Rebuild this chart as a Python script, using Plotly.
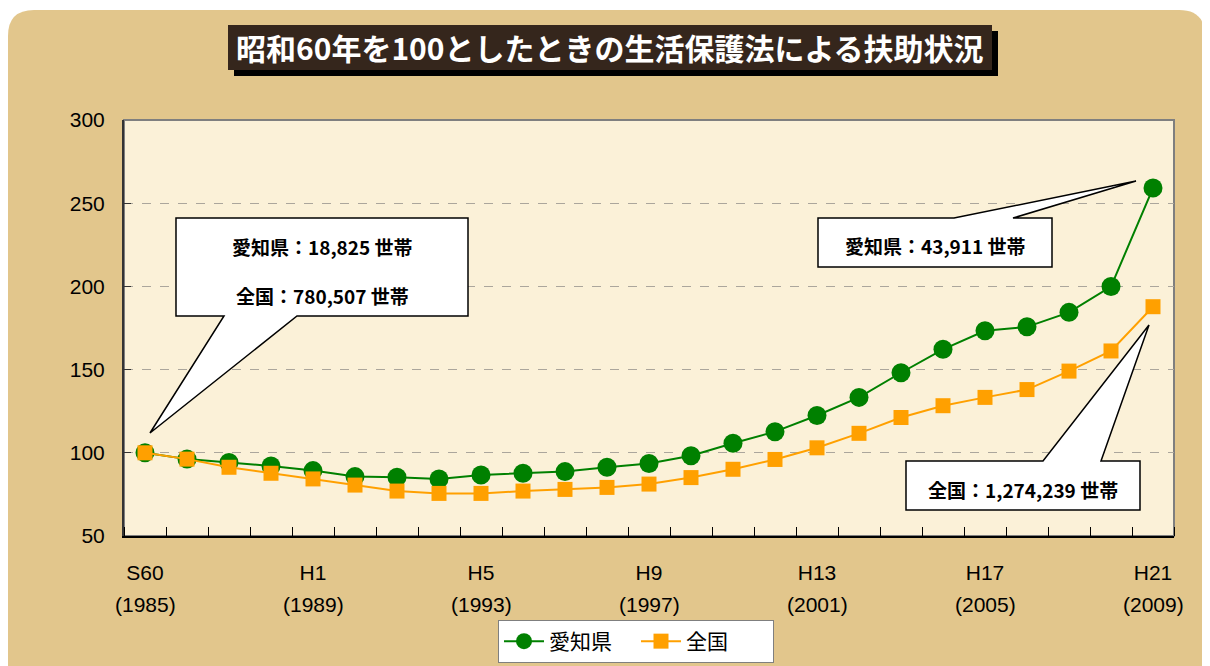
import plotly.graph_objects as go

# ---------------- data ----------------
years = list(range(1985, 2010))
aichi = [100, 96.2, 94.2, 92.1, 89.3, 85.7, 85.3, 84.3, 86.7, 87.7, 88.7, 91.3, 93.6,
         98.2, 105.7, 112.7, 122.4, 133.3, 148.1, 162.2, 173.3, 175.7, 184.4, 199.9, 259.1]
zenkoku = [100, 96.2, 91.3, 87.7, 84.3, 80.6, 77.0, 75.6, 75.6, 77.0, 78.0, 79.2, 81.2,
           85.1, 90.1, 96.0, 103.0, 111.7, 121.2, 128.3, 133.3, 138.0, 149.1, 161.2, 187.8]
series_names = ["愛知県", "全国"]
tick_years = [1985, 1989, 1993, 1997, 2001, 2005, 2009]
era_labels = ["S60", "H1", "H5", "H9", "H13", "H17", "H21"]
year_labels = ["(1985)", "(1989)", "(1993)", "(1997)", "(2001)", "(2005)", "(2009)"]
title_text = "昭和60年を100としたときの生活保護法による扶助状況"
callout_1985 = ["愛知県：18,825 世帯", "全国：780,507 世帯"]
callout_aichi_2009 = "愛知県：43,911 世帯"
callout_zenkoku_2009 = "全国：1,274,239 世帯"

# ---------------- layout helpers ----------------
OFF = 8                      # page body margin of the browser
W, H = 1210 - OFF, 666 - OFF  # figure size
L, R, T, B = 124, 1174, 120, 536   # plot area in screen pixels


def px(x):
    return (x - L) / (R - L)


def py(y):
    return (B - y) / (B - T)


def path(pts):
    s = "M " + " L ".join(f"{px(x):.5f},{py(y):.5f}" for x, y in pts)
    return s + " Z"


GREEN = "#008000"
ORANGE = "#FFA000"
JP = "Noto Sans CJK JP"
LAT = "Liberation Sans"

fig = go.Figure()
fig.add_trace(go.Scatter(x=years, y=aichi, name=series_names[0], mode="lines+markers",
                         line=dict(color=GREEN, width=2),
                         marker=dict(symbol="circle", size=19, color=GREEN)))
fig.add_trace(go.Scatter(x=years, y=zenkoku, name=series_names[1], mode="lines+markers",
                         line=dict(color=ORANGE, width=2),
                         marker=dict(symbol="square", size=15, color=ORANGE)))

shapes = []
# parchment background with rounded corners
r = 26
x0, y0, x1, y1 = 8, 10, 1205, 700
bg = (f"M {px(x0)},{py(y0 + r)} Q {px(x0)},{py(y0)} {px(x0 + r)},{py(y0)} "
      f"L {px(x1 - r)},{py(y0)} Q {px(x1)},{py(y0)} {px(x1)},{py(y0 + r)} "
      f"L {px(x1)},{py(y1)} L {px(x0)},{py(y1)} Z")
shapes.append(dict(type="path", path=bg, xref="paper", yref="paper", layer="below",
                   fillcolor="#E2C68C", line=dict(width=0)))
# plot area
shapes.append(dict(type="rect", xref="paper", yref="paper", x0=0, x1=1, y0=0, y1=1,
                   layer="below", fillcolor="#FBF1D8", line=dict(color="#7F7F7F", width=2)))
# title box with shadow
shapes.append(dict(type="rect", xref="paper", yref="paper", x0=px(234), x1=px(998),
                   y0=py(31), y1=py(76), fillcolor="#000000", line=dict(width=0)))
shapes.append(dict(type="rect", xref="paper", yref="paper", x0=px(228), x1=px(992),
                   y0=py(25), y1=py(70), fillcolor="#35261C", line=dict(width=0)))
# callouts
co = dict(type="path", xref="paper", yref="paper", fillcolor="#FFFFFF",
          line=dict(color="#000000", width=1.5))
shapes.append(dict(co, path=path([(176, 218), (468, 218), (468, 316), (297, 316),
                                  (150, 433), (224, 316), (176, 316)])))
shapes.append(dict(co, path=path([(818, 218), (954, 218), (1136, 181), (1013, 218),
                                  (1052, 218), (1052, 267), (818, 267)])))
shapes.append(dict(co, path=path([(906, 461), (1043, 461), (1149, 325), (1101, 461),
                                  (1140, 461), (1140, 510), (906, 510)])))

annotations = []


def label(text, x, y, font, xref="paper"):
    annotations.append(dict(text=text, xref=xref, yref="paper", x=x, y=y,
                            xanchor="center", yanchor="middle", showarrow=False,
                            font=font))


label(f"<b>{title_text}</b>", px(610), py(47), dict(family=JP, size=30, color="#FFFFFF"))
cfont = dict(family=JP, size=19, color="#000000")
label(f"<b>{callout_1985[0]}</b>", px(322), py(246), cfont)
label(f"<b>{callout_1985[1]}</b>", px(322), py(295), cfont)
label(f"<b>{callout_aichi_2009}</b>", px(935), py(245), cfont)
label(f"<b>{callout_zenkoku_2009}</b>", px(1023), py(489), cfont)
for yv, lab in zip(tick_years, year_labels):
    label(lab, yv, py(604), dict(family=LAT, size=21, color="#000000"), xref="x")

fig.update_layout(
    width=W, height=H,
    margin=dict(l=L - OFF, r=W - (R - OFF), t=T - OFF, b=H - (B - OFF), autoexpand=False),
    paper_bgcolor="#FFFFFF",
    plot_bgcolor="rgba(0,0,0,0)",
    shapes=shapes,
    annotations=annotations,
    showlegend=True,
    legend=dict(orientation="h", x=px(636), xanchor="center", y=py(663), yanchor="bottom",
                bgcolor="#FFFFFF", bordercolor="#7F7F7F", borderwidth=1,
                font=dict(family=JP, size=21, color="#000000"), itemwidth=40,
                entrywidth=82, tracegroupgap=0),
    font=dict(family=LAT, color="#000000"),
)
fig.update_xaxes(range=[1984.5, 2009.5], tickmode="array", tickvals=tick_years,
                 ticktext=era_labels, ticks="", showgrid=False, zeroline=False,
                 showline=True, linecolor="#000000", linewidth=2, automargin=False,
                 tickfont=dict(family=LAT, size=21, color="#000000"),
                 ticklabelstandoff=17,
                 minor=dict(tickmode="linear", tick0=1984.5, dtick=1, ticks="inside",
                            ticklen=9, tickcolor="#000000", tickwidth=1, showgrid=False))
fig.update_yaxes(range=[50, 300], tickmode="linear", tick0=50, dtick=50,
                 ticks="inside", ticklen=7, tickcolor="#333333", automargin=False,
                 showgrid=True, gridcolor="#ABA69C", griddash="dash", gridwidth=1,
                 zeroline=False, showline=True, linecolor="#333333", linewidth=2,
                 tickfont=dict(family=LAT, size=21, color="#000000"),
                 ticklabelstandoff=13)

fig.write_html("out.html")
